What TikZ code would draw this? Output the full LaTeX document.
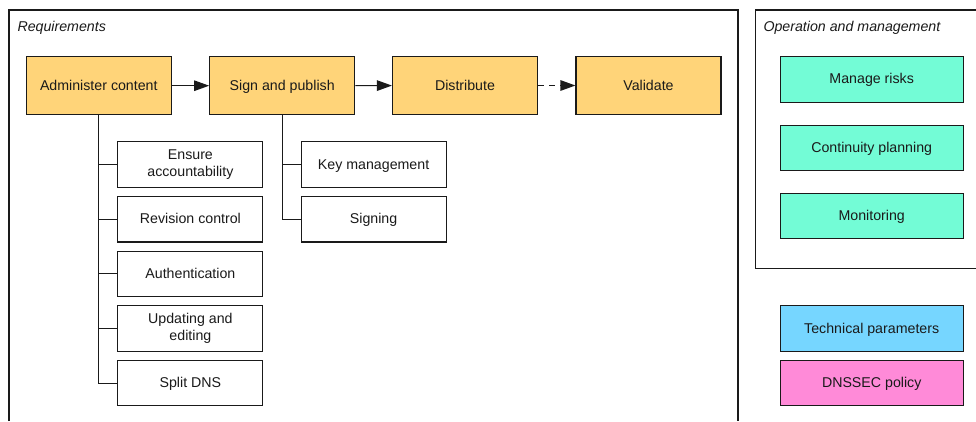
\documentclass[tikz,border=0pt]{standalone}
\usepackage{fontspec}
\setmainfont{Liberation Sans}
\usetikzlibrary{arrows.meta}
\definecolor{cantaloupe}{HTML}{FFD479}
\definecolor{spindrift}{HTML}{73FCD6}
\definecolor{sky}{HTML}{76D6FF}
\definecolor{carnation}{HTML}{FF8AD8}
\definecolor{ink}{HTML}{1A1A1A}
\begin{document}
\begin{tikzpicture}[x=1pt,y=-1pt,
  font=\fontsize{14.2}{17}\selectfont,
  box/.style={draw=ink, line width=1.1pt, inner sep=0pt, align=center, text=ink,
    text height=11.5pt, text depth=2.3pt},
  twolines/.style={text height=, text depth=, yshift=-1.2pt},
  mainbox/.style={box, fill=cantaloupe, minimum width=145pt, minimum height=57.7pt},
  subbox/.style={box, fill=white, minimum width=145pt, minimum height=45.5pt},
  opbox/.style={box, fill=spindrift, minimum width=182.7pt, minimum height=45.5pt},
  frame/.style={draw=ink, line width=1.1pt},
  link/.style={draw=ink, line width=1.1pt},
  flow/.style={link, -{Triangle[length=15pt,width=10.5pt]}},
  grouplabel/.style={anchor=base west, inner sep=0pt, text=ink, font=\fontsize{14.2}{17}\selectfont\itshape}]
\useasboundingbox (0,0) rectangle (976,421);
% group frames
\draw[frame] (9,421) -- (9,10) -- (738,10) -- (738,421);
\draw[frame] (976,10) -- (755.7,10) -- (755.7,268.7) -- (976,268.7);
\node[grouplabel] (reqlabel) at (17.3,31.8) {Requirements};
\node[grouplabel] (oplabel) at (763.3,31.8) {Operation and management};
% main flow
\node[mainbox] (admin) at (98.8,85.7) {Administer content};
\node[mainbox] (sign) at (282.2,85.7) {Sign and publish};
\node[mainbox] (dist) at (465,85.5) {Distribute};
\node[mainbox] (valid) at (648.5,85.5) {Validate};
\draw[flow] (admin) -- (sign);
\draw[flow] (sign) -- (dist);
\draw[flow, dash pattern=on 6pt off 5pt] (dist) -- (valid);
% administer content children
\node[subbox] (c1) at (190.4,164.5) {};
\node[text=ink, align=center, inner sep=0pt] (c1t) at (c1.center) {Ensure\\accountability};
\node[subbox] (c2) at (190.4,219.2) {Revision control};
\node[subbox] (c3) at (190.4,273.9) {Authentication};
\node[subbox] (c4) at (190.4,328.5) {};
\node[text=ink, align=center, inner sep=0pt] (c4t) at (c4.center) {Updating and\\editing};
\node[subbox] (c5) at (190.4,383.1) {Split DNS};
\foreach \c in {c1,c2,c3,c4,c5} \draw[link] (admin.south) |- (\c.west);
% sign and publish children
\node[subbox] (k1) at (373.6,164.5) {Key management};
\node[subbox] (k2) at (373.6,219.2) {Signing};
\foreach \c in {k1,k2} \draw[link] (sign.south) |- (\c.west);
% operation and management
\node[opbox] (m1) at (871.7,79.3) {Manage risks};
\node[opbox] (m2) at (871.7,147.8) {Continuity planning};
\node[opbox] (m3) at (871.7,216) {Monitoring};
% separate boxes
\node[opbox, fill=sky] (tp) at (871.7,328.4) {Technical parameters};
\node[opbox, fill=carnation] (dp) at (871.7,382.9) {DNSSEC policy};
\end{tikzpicture}
\end{document}
